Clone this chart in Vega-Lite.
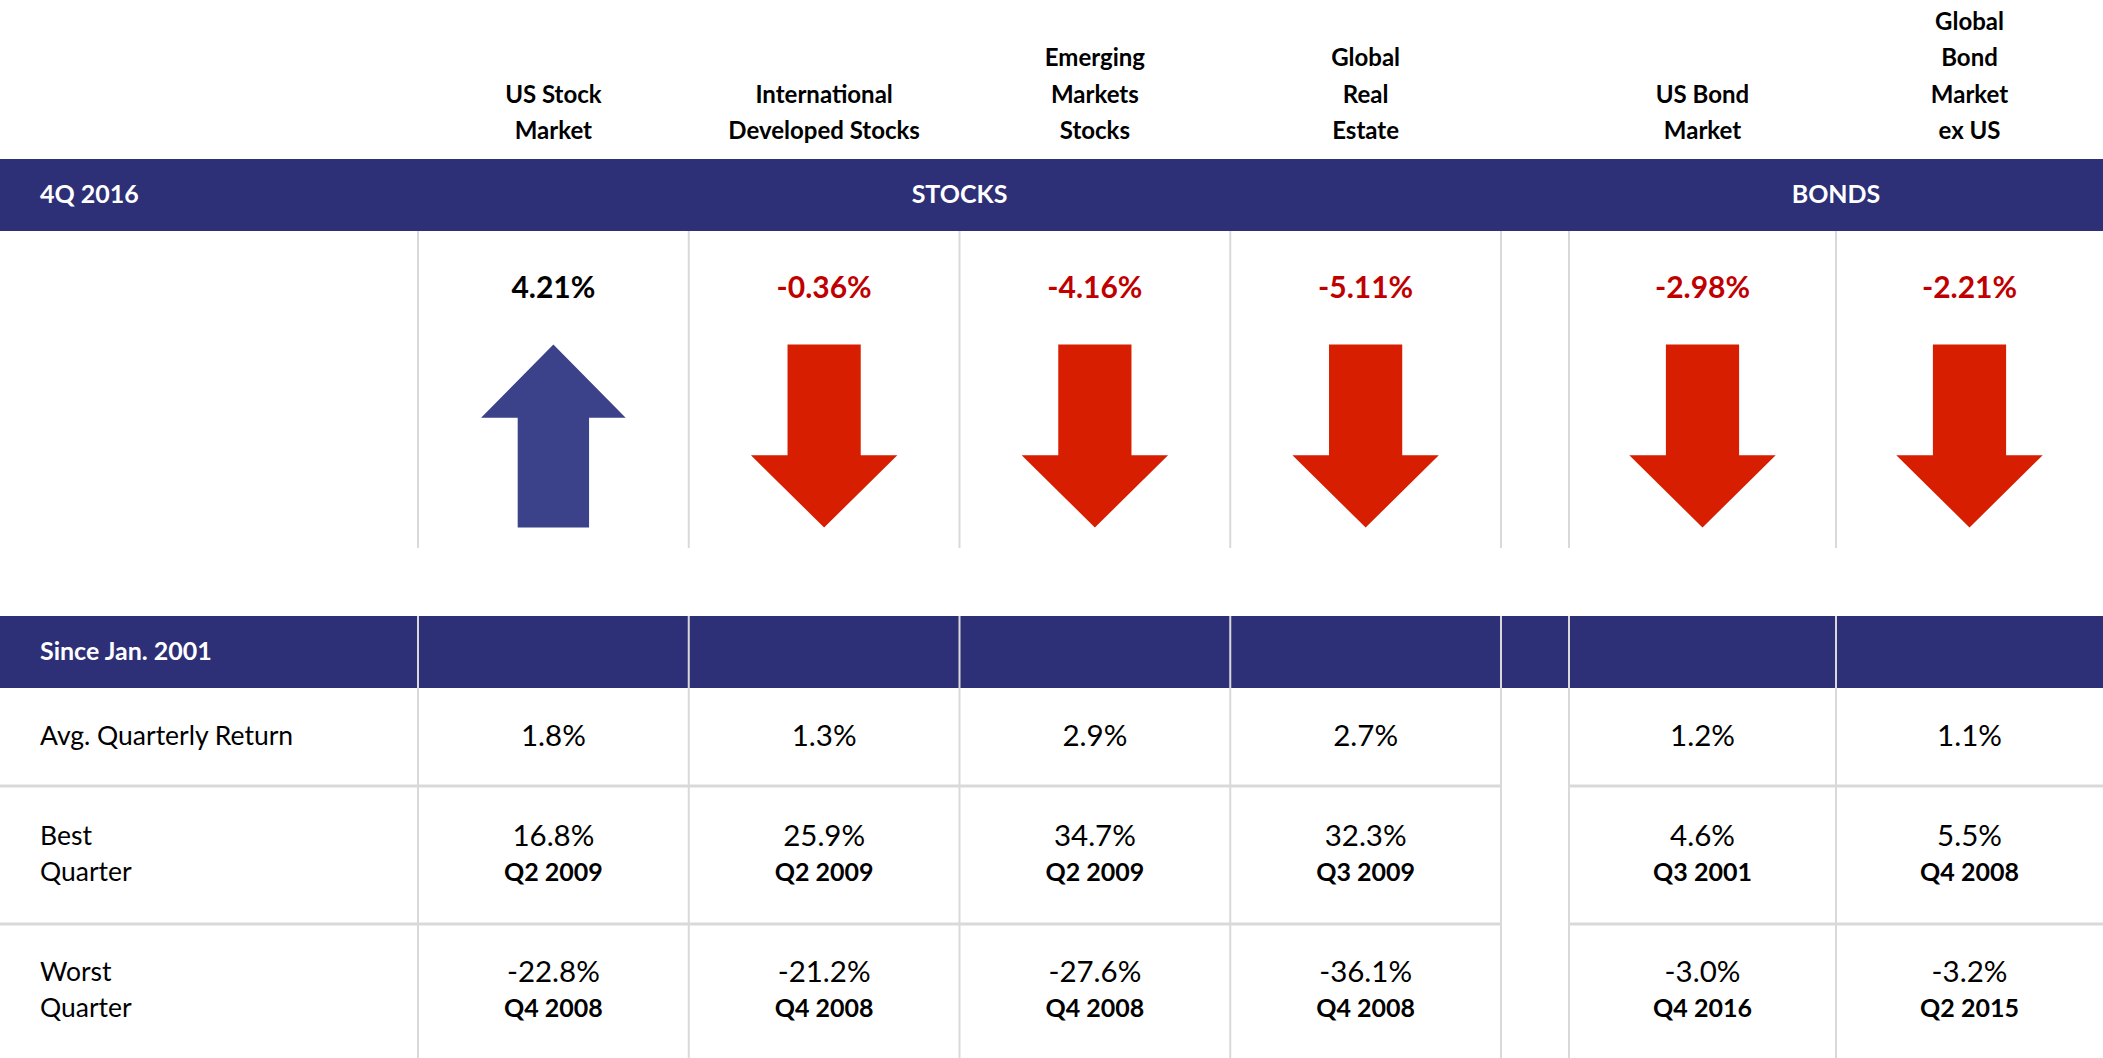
{
  "$schema": "https://vega.github.io/schema/vega-lite/v6.json",
  "width": 2103,
  "height": 1058,
  "autosize": {"type": "none"},
  "padding": 0,
  "background": "white",
  "config": {
    "view": {"stroke": null},
    "locale": {"number": {"decimal": ".", "thousands": ",", "grouping": [3], "currency": ["$", ""], "minus": "-"}},
    "text": {"font": "Lato"}
  },
  "datasets": {
    "assets": [
      {"asset": "US Stock\nMarket", "x": 3, "ret": 0.0421, "dir": "up"},
      {"asset": "International\nDeveloped Stocks", "x": 5, "ret": -0.0036, "dir": "down"},
      {"asset": "Emerging\nMarkets\nStocks", "x": 7, "ret": -0.0416, "dir": "down"},
      {"asset": "Global\nReal\nEstate", "x": 9, "ret": -0.0511, "dir": "down"},
      {"asset": "US Bond\nMarket", "x": 13, "ret": -0.0298, "dir": "down"},
      {"asset": "Global\nBond\nMarket\nex US", "x": 15, "ret": -0.0221, "dir": "down"}
    ],
    "table": [
      {"asset": "US Stock Market", "stat": "avg", "x": 3, "y": 15, "value": 0.018, "quarter": null},
      {"asset": "International Developed Stocks", "stat": "avg", "x": 5, "y": 15, "value": 0.013, "quarter": null},
      {"asset": "Emerging Markets Stocks", "stat": "avg", "x": 7, "y": 15, "value": 0.029, "quarter": null},
      {"asset": "Global Real Estate", "stat": "avg", "x": 9, "y": 15, "value": 0.027, "quarter": null},
      {"asset": "US Bond Market", "stat": "avg", "x": 13, "y": 15, "value": 0.012, "quarter": null},
      {"asset": "Global Bond Market ex US", "stat": "avg", "x": 15, "y": 15, "value": 0.011, "quarter": null},
      {"asset": "US Stock Market", "stat": "best", "x": 3, "y": 17, "value": 0.168, "quarter": "Q2 2009"},
      {"asset": "International Developed Stocks", "stat": "best", "x": 5, "y": 17, "value": 0.259, "quarter": "Q2 2009"},
      {"asset": "Emerging Markets Stocks", "stat": "best", "x": 7, "y": 17, "value": 0.347, "quarter": "Q2 2009"},
      {"asset": "Global Real Estate", "stat": "best", "x": 9, "y": 17, "value": 0.323, "quarter": "Q3 2009"},
      {"asset": "US Bond Market", "stat": "best", "x": 13, "y": 17, "value": 0.046, "quarter": "Q3 2001"},
      {"asset": "Global Bond Market ex US", "stat": "best", "x": 15, "y": 17, "value": 0.055, "quarter": "Q4 2008"},
      {"asset": "US Stock Market", "stat": "worst", "x": 3, "y": 19, "value": -0.228, "quarter": "Q4 2008"},
      {"asset": "International Developed Stocks", "stat": "worst", "x": 5, "y": 19, "value": -0.212, "quarter": "Q4 2008"},
      {"asset": "Emerging Markets Stocks", "stat": "worst", "x": 7, "y": 19, "value": -0.276, "quarter": "Q4 2008"},
      {"asset": "Global Real Estate", "stat": "worst", "x": 9, "y": 19, "value": -0.361, "quarter": "Q4 2008"},
      {"asset": "US Bond Market", "stat": "worst", "x": 13, "y": 19, "value": -0.03, "quarter": "Q4 2016"},
      {"asset": "Global Bond Market ex US", "stat": "worst", "x": 15, "y": 19, "value": -0.032, "quarter": "Q2 2015"}
    ],
    "rowLabels": [
      {"label": "Avg. Quarterly Return", "x": 0, "y": 15, "lines": 1},
      {"label": "Best\nQuarter", "x": 0, "y": 17, "lines": 2},
      {"label": "Worst\nQuarter", "x": 0, "y": 19, "lines": 2}
    ],
    "bandLeft": [
      {"label": "4Q 2016", "x": 0, "y": 3},
      {"label": "Since Jan. 2001", "x": 0, "y": 13}
    ],
    "bandCenter": [
      {"label": "STOCKS", "x": 6, "y": 3},
      {"label": "BONDS", "x": 14, "y": 3}
    ],
    "bands": [
      {"x": 0, "x2": 16, "y": 2, "y2": 4},
      {"x": 0, "x2": 16, "y": 12, "y2": 14}
    ],
    "vlines": [
      {"x": 2, "x2": 2, "y": 4, "y2": 10}, {"x": 4, "x2": 4, "y": 4, "y2": 10}, {"x": 6, "x2": 6, "y": 4, "y2": 10},
      {"x": 8, "x2": 8, "y": 4, "y2": 10}, {"x": 10, "x2": 10, "y": 4, "y2": 10}, {"x": 12, "x2": 12, "y": 4, "y2": 10},
      {"x": 14, "x2": 14, "y": 4, "y2": 10},
      {"x": 2, "x2": 2, "y": 12, "y2": 20}, {"x": 4, "x2": 4, "y": 12, "y2": 20}, {"x": 6, "x2": 6, "y": 12, "y2": 20},
      {"x": 8, "x2": 8, "y": 12, "y2": 20}, {"x": 10, "x2": 10, "y": 12, "y2": 20}, {"x": 12, "x2": 12, "y": 12, "y2": 20},
      {"x": 14, "x2": 14, "y": 12, "y2": 20}
    ],
    "hlines": [
      {"x": 0, "x2": 10, "y": 16, "y2": 16}, {"x": 12, "x2": 16, "y": 16, "y2": 16},
      {"x": 0, "x2": 10, "y": 18, "y2": 18}, {"x": 12, "x2": 16, "y": 18, "y2": 18}
    ]
  },
  "encoding": {
    "x": {"field": "x", "type": "quantitative", "axis": null,
          "scale": {"domain": [0, 2, 10, 12, 16], "range": [0, 418, 1501, 1569, 2103], "nice": false, "zero": false}}
  },
  "layer": [
    {
      "data": {"name": "bands"},
      "mark": {"type": "rect", "color": "#2d2f77"},
      "encoding": {
        "x2": {"field": "x2"},
        "y": {"field": "y", "type": "quantitative", "axis": null,
              "scale": {"domain": [0, 2, 4, 6, 8, 10, 12, 14, 16, 18, 20], "range": [0, 159, 231, 347, 525, 548, 616, 688, 786, 924, 1058], "nice": false, "zero": false}},
        "y2": {"field": "y2"}
      }
    },
    {
      "data": {"name": "vlines"},
      "mark": {"type": "rule", "color": "#d9d9d9", "strokeWidth": 2},
      "encoding": {
        "x2": {"field": "x2"},
        "y": {"field": "y", "type": "quantitative"},
        "y2": {"field": "y2"}
      }
    },
    {
      "data": {"name": "hlines"},
      "mark": {"type": "rule", "color": "#d9d9d9", "strokeWidth": 3},
      "encoding": {
        "x2": {"field": "x2"},
        "y": {"field": "y", "type": "quantitative"},
        "y2": {"field": "y2"}
      }
    },
    {
      "data": {"name": "assets"},
      "transform": [{"filter": "split(datum.asset, '\\n').length == 2"}],
      "mark": {"type": "text", "fontWeight": "bold", "fontSize": 24, "lineBreak": "\n", "lineHeight": 36.5, "baseline": "alphabetic", "align": "center", "dy": -56.5, "color": "#000000"},
      "encoding": {
        "y": {"datum": 2, "type": "quantitative"},
        "text": {"field": "asset"}
      }
    },
    {
      "data": {"name": "assets"},
      "transform": [{"filter": "split(datum.asset, '\\n').length == 3"}],
      "mark": {"type": "text", "fontWeight": "bold", "fontSize": 24, "lineBreak": "\n", "lineHeight": 36.5, "baseline": "alphabetic", "align": "center", "dy": -93, "color": "#000000"},
      "encoding": {
        "y": {"datum": 2, "type": "quantitative"},
        "text": {"field": "asset"}
      }
    },
    {
      "data": {"name": "assets"},
      "transform": [{"filter": "split(datum.asset, '\\n').length == 4"}],
      "mark": {"type": "text", "fontWeight": "bold", "fontSize": 24, "lineBreak": "\n", "lineHeight": 36.5, "baseline": "alphabetic", "align": "center", "dy": -129.5, "color": "#000000"},
      "encoding": {
        "y": {"datum": 2, "type": "quantitative"},
        "text": {"field": "asset"}
      }
    },
    {
      "data": {"name": "assets"},
      "mark": {"type": "text", "fontWeight": "bold", "fontSize": 30, "baseline": "middle", "align": "center"},
      "encoding": {
        "y": {"datum": 5, "type": "quantitative"},
        "text": {"field": "ret", "format": ".2%"},
        "color": {"condition": {"test": "datum.ret < 0", "value": "#c00000"}, "value": "#000000"}
      }
    },
    {
      "data": {"name": "assets"},
      "mark": {"type": "point", "filled": true, "size": 33489, "opacity": 1, "strokeWidth": 0},
      "encoding": {
        "y": {"datum": 7, "type": "quantitative"},
        "shape": {"field": "dir", "type": "nominal", "legend": null,
                  "scale": {"domain": ["up", "down"], "range": ["M0,-1L0.79,-0.2L0.39,-0.2L0.39,1L-0.39,1L-0.39,-0.2L-0.79,-0.2Z", "M-0.4,-1L0.4,-1L0.4,0.21L0.8,0.21L0,1L-0.8,0.21L-0.4,0.21Z"]}},
        "color": {"field": "dir", "type": "nominal", "legend": null,
                  "scale": {"domain": ["up", "down"], "range": ["#3b4289", "#d81e00"]}}
      }
    },
    {
      "data": {"name": "bandLeft"},
      "mark": {"type": "text", "fontWeight": "bold", "fontSize": 25, "baseline": "middle", "align": "left", "dx": 40, "color": "#ffffff"},
      "encoding": {
        "y": {"field": "y", "type": "quantitative"},
        "text": {"field": "label"}
      }
    },
    {
      "data": {"name": "bandCenter"},
      "mark": {"type": "text", "fontWeight": "bold", "fontSize": 25, "baseline": "middle", "align": "center", "color": "#ffffff"},
      "encoding": {
        "y": {"field": "y", "type": "quantitative"},
        "text": {"field": "label"}
      }
    },
    {
      "data": {"name": "rowLabels"},
      "transform": [{"filter": "datum.lines == 1"}],
      "mark": {"type": "text", "fontSize": 26.5, "baseline": "middle", "align": "left", "dx": 40, "color": "#000000"},
      "encoding": {
        "y": {"field": "y", "type": "quantitative"},
        "text": {"field": "label"}
      }
    },
    {
      "data": {"name": "rowLabels"},
      "transform": [{"filter": "datum.lines == 2"}],
      "mark": {"type": "text", "fontSize": 26.5, "baseline": "middle", "align": "left", "dx": 40, "dy": -18, "lineBreak": "\n", "lineHeight": 36, "color": "#000000"},
      "encoding": {
        "y": {"field": "y", "type": "quantitative"},
        "text": {"field": "label"}
      }
    },
    {
      "data": {"name": "table"},
      "transform": [{"filter": "datum.stat === 'avg'"}],
      "mark": {"type": "text", "fontSize": 29.5, "baseline": "middle", "align": "center", "color": "#000000"},
      "encoding": {
        "y": {"field": "y", "type": "quantitative"},
        "text": {"field": "value", "format": ".1%"}
      }
    },
    {
      "data": {"name": "table"},
      "transform": [{"filter": "datum.stat !== 'avg'"}],
      "mark": {"type": "text", "fontSize": 29.5, "baseline": "middle", "align": "center", "dy": -18, "color": "#000000"},
      "encoding": {
        "y": {"field": "y", "type": "quantitative"},
        "text": {"field": "value", "format": ".1%"}
      }
    },
    {
      "data": {"name": "table"},
      "transform": [{"filter": "datum.stat !== 'avg'"}],
      "mark": {"type": "text", "fontSize": 25, "fontWeight": "bold", "baseline": "middle", "align": "center", "dy": 18, "color": "#000000"},
      "encoding": {
        "y": {"field": "y", "type": "quantitative"},
        "text": {"field": "quarter"}
      }
    }
  ]
}
